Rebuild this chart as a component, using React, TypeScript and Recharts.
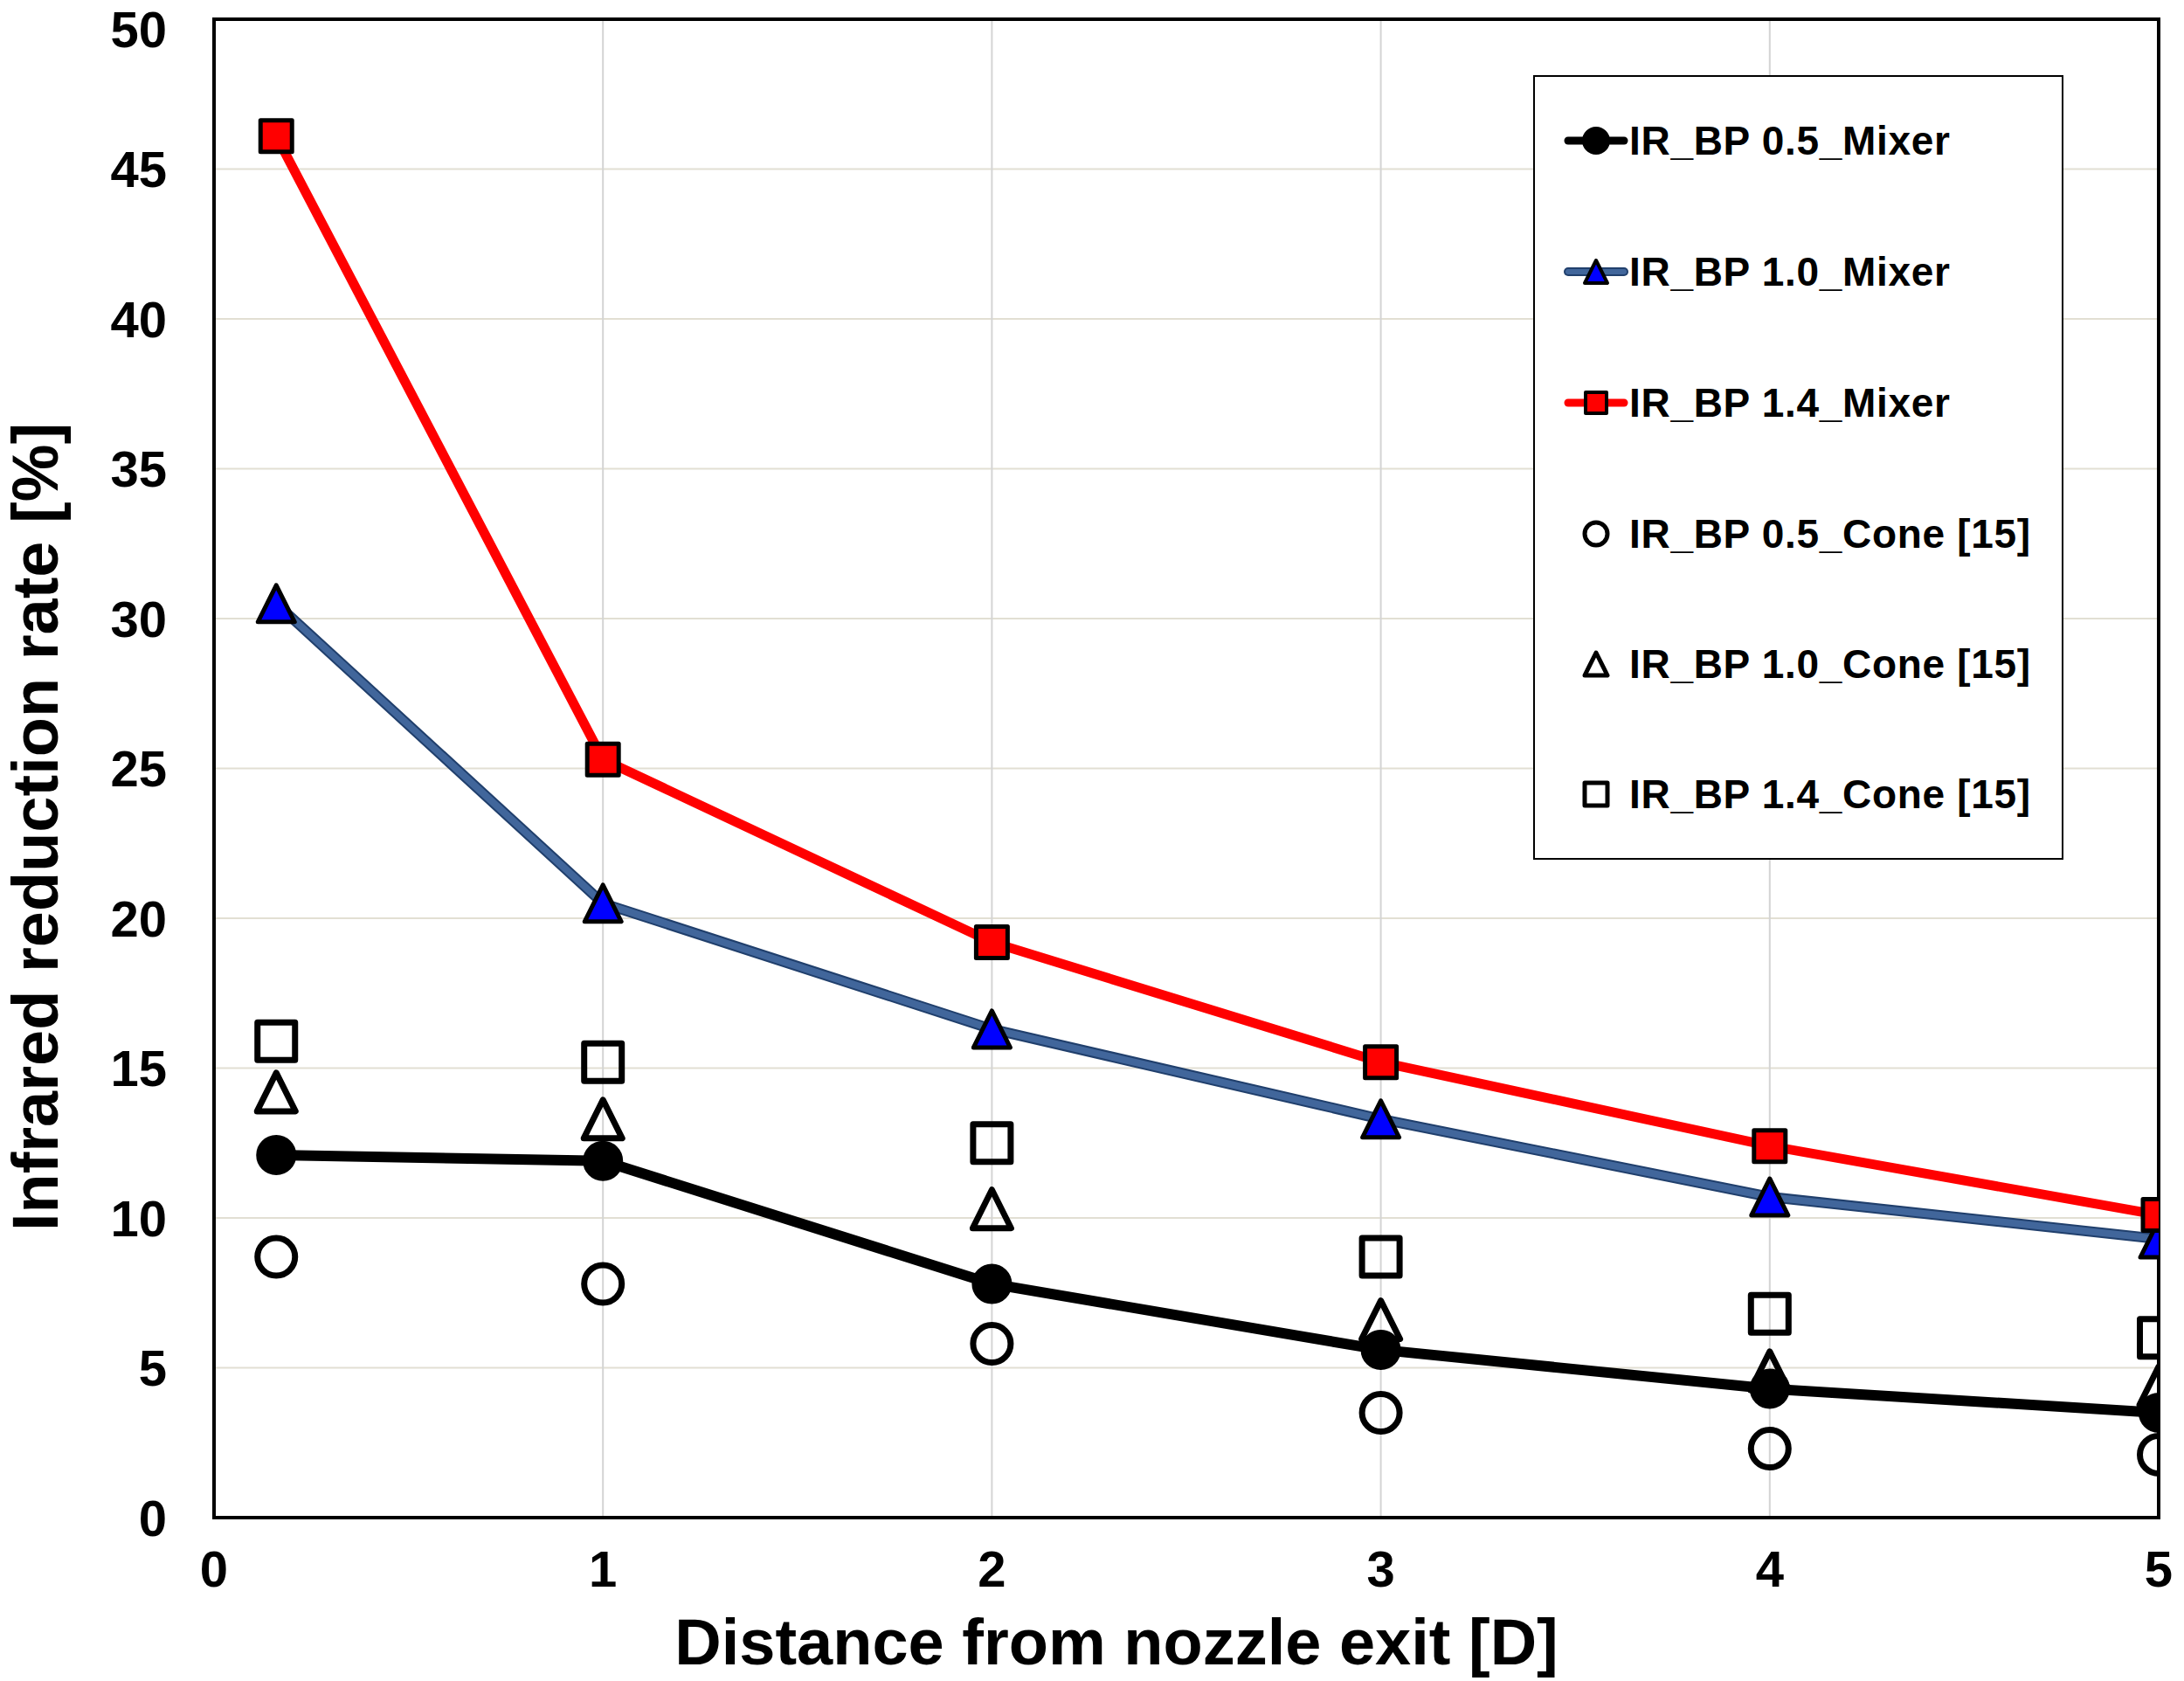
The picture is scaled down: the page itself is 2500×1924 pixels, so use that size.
import React from "react";
import {
  ComposedChart,
  Line,
  XAxis,
  YAxis,
  CartesianGrid,
  ReferenceArea,
  Legend,
} from "recharts";

// ---- data ----
const X_VALUES = [0.16, 1, 2, 3, 4, 5];
const MIXER_05 = [12.1, 11.9, 7.8, 5.6, 4.3, 3.5];
const MIXER_10 = [30.5, 20.5, 16.3, 13.3, 10.7, 9.3];
const MIXER_14 = [46.1, 25.3, 19.2, 15.2, 12.4, 10.1];
const CONE_05 = [8.7, 7.8, 5.8, 3.5, 2.3, 2.1];
const CONE_10 = [14.2, 13.3, 10.3, 6.6, 4.9, 4.4];
const CONE_14 = [15.9, 15.2, 12.5, 8.7, 6.8, 6.0];
const X_TICKS = [0, 1, 2, 3, 4, 5];
const Y_TICKS = [0, 5, 10, 15, 20, 25, 30, 35, 40, 45, 50];
const LEGEND_LABELS = [
  "IR_BP 0.5_Mixer",
  "IR_BP 1.0_Mixer",
  "IR_BP 1.4_Mixer",
  "IR_BP 0.5_Cone [15]",
  "IR_BP 1.0_Cone [15]",
  "IR_BP 1.4_Cone [15]",
];

const data = X_VALUES.map((x, i) => ({
  x,
  m05: MIXER_05[i],
  m10: MIXER_10[i],
  m14: MIXER_14[i],
  c05: CONE_05[i],
  c10: CONE_10[i],
  c14: CONE_14[i],
}));

const FONT = "'Liberation Sans', Arial, Helvetica, sans-serif";
const BLUE_EDGE = "#203f6c";
const BLUE_FILL = "#41669b";

type Shape = "circle" | "triangle" | "square";

function Marker({
  cx,
  cy,
  shape,
  size,
  fill,
  stroke,
  sw,
}: {
  cx: number;
  cy: number;
  shape: Shape;
  size: number;
  fill: string;
  stroke: string;
  sw: number;
}) {
  if (cx == null || cy == null || isNaN(cx) || isNaN(cy)) return null;
  if (shape === "circle") {
    return <circle cx={cx} cy={cy} r={size / 2} fill={fill} stroke={stroke} strokeWidth={sw} />;
  }
  if (shape === "square") {
    return (
      <rect
        x={cx - size / 2}
        y={cy - size / 2}
        width={size}
        height={size}
        fill={fill}
        stroke={stroke}
        strokeWidth={sw}
        strokeLinejoin="round"
      />
    );
  }
  const h = size;
  const w = size;
  return (
    <path
      d={`M${cx},${cy - h / 2} L${cx + w / 2},${cy + h / 2} L${cx - w / 2},${cy + h / 2} Z`}
      fill={fill}
      stroke={stroke}
      strokeWidth={sw}
      strokeLinejoin="round"
    />
  );
}

const makeDot =
  (name: string, shape: Shape, size: number, fill: string, stroke: string, sw: number) =>
  (p: any) =>
    (
      <Marker
        key={`${name}-${p.index}`}
        cx={p.cx}
        cy={p.cy}
        shape={shape}
        size={size}
        fill={fill}
        stroke={stroke}
        sw={sw}
      />
    );

function LegendBox() {
  const W = 607;
  const H = 898;
  const rowY = [75, 225, 375, 525, 674, 823];
  const sym = [
    { line: "#000", shape: "circle" as Shape, fill: "#000", stroke: "#000", size: 30, sw: 2 },
    { line: BLUE_FILL, shape: "triangle" as Shape, fill: "#0000ff", stroke: "#000", size: 26, sw: 4 },
    { line: "#ff0000", shape: "square" as Shape, fill: "#ff0000", stroke: "#000", size: 24, sw: 4 },
    { line: null, shape: "circle" as Shape, fill: "none", stroke: "#000", size: 26, sw: 5 },
    { line: null, shape: "triangle" as Shape, fill: "none", stroke: "#000", size: 26, sw: 5 },
    { line: null, shape: "square" as Shape, fill: "none", stroke: "#000", size: 26, sw: 5 },
  ];
  return (
    <svg width={W} height={H} style={{ display: "block" }}>
      <rect x={1} y={1} width={W - 2} height={H - 2} fill="#fff" stroke="#000" strokeWidth={2} />
      {LEGEND_LABELS.map((label, i) => {
        const s = sym[i];
        const y = rowY[i];
        return (
          <g key={label}>
            {s.line && i === 1 && (
              <line x1={40} x2={104} y1={y} y2={y} stroke={BLUE_EDGE} strokeWidth={10} strokeLinecap="round" />
            )}
            {s.line && (
              <line
                x1={40}
                x2={104}
                y1={y}
                y2={y}
                stroke={s.line}
                strokeWidth={i === 1 ? 6 : 9}
                strokeLinecap="round"
              />
            )}
            <Marker cx={72} cy={y} shape={s.shape} size={s.size} fill={s.fill} stroke={s.stroke} sw={s.sw} />
            <text
              x={110}
              y={y + 16}
              fontFamily={FONT}
              fontWeight="bold"
              fontSize={46}
              letterSpacing={0.7}
              fill="#000"
            >
              {label}
            </text>
          </g>
        );
      })}
    </svg>
  );
}

export default function App() {
  return (
    <div style={{ position: "absolute", left: 0, top: 0, width: 2500, height: 1924, background: "#fff" }}>
      <ComposedChart
        width={2500}
        height={1924}
        data={data}
        margin={{ top: 22, right: 29, bottom: 0, left: 0 }}
      >
        <CartesianGrid horizontal={true} vertical={false} stroke="#e2dfd3" strokeWidth={2} />
        <CartesianGrid horizontal={false} vertical={true} stroke="#d4d4d4" strokeWidth={2} />
        <XAxis
          dataKey="x"
          type="number"
          domain={[0, 5]}
          ticks={X_TICKS}
          allowDataOverflow
          axisLine={false}
          tickLine={false}
          tickSize={0}
          tickMargin={38}
          height={187}
          tick={{ fill: "#000", fontSize: 58, fontWeight: "bold", fontFamily: FONT }}
          label={{
            content: (props: any) => {
              const vb = props.viewBox || { x: 245, y: 1737, width: 2226, height: 187 };
              return (
                <text
                  x={vb.x + vb.width / 2 - 80}
                  y={vb.y + 168}
                  textAnchor="middle"
                  fontFamily={FONT}
                  fontWeight="bold"
                  fontSize={74}
                  fill="#000"
                >
                  Distance from nozzle exit [D]
                </text>
              );
            },
          }}
        />
        <YAxis
          type="number"
          domain={[0, 50]}
          ticks={Y_TICKS}
          allowDataOverflow
          axisLine={false}
          tickLine={false}
          tickSize={0}
          tickMargin={54}
          width={245}
          tick={{ fill: "#000", fontSize: 58, fontWeight: "bold", fontFamily: FONT }}
          label={{
            content: (props: any) => {
              const vb = props.viewBox || { x: 0, y: 22, width: 245, height: 1715 };
              const cx = vb.x + 66;
              const cy = vb.y + vb.height / 2 + 67;
              return (
                <text
                  transform={`translate(${cx},${cy}) rotate(-90)`}
                  x={0}
                  y={0}
                  textAnchor="middle"
                  fontFamily={FONT}
                  fontWeight="bold"
                  fontSize={74}
                  fill="#000"
                >
                  Infrared reduction rate [%]
                </text>
              );
            },
          }}
        />
        <ReferenceArea x1={0} x2={5} y1={0} y2={50} fill="none" fillOpacity={0} stroke="#000" strokeWidth={4} />
        <Line
          dataKey="m05"
          stroke="#000"
          strokeWidth={12}
          isAnimationActive={false}
          activeDot={false}
          legendType="none"
          dot={makeDot("m05", "circle", 44, "#000", "#000", 2)}
        />
        <Line
          dataKey="m10"
          stroke={BLUE_EDGE}
          strokeWidth={12}
          isAnimationActive={false}
          activeDot={false}
          legendType="none"
          dot={false}
        />
        <Line
          dataKey="m10"
          stroke={BLUE_FILL}
          strokeWidth={8}
          isAnimationActive={false}
          activeDot={false}
          legendType="none"
          dot={makeDot("m10", "triangle", 42, "#0000ff", "#000", 5)}
        />
        <Line
          dataKey="m14"
          stroke="#ff0000"
          strokeWidth={11}
          isAnimationActive={false}
          activeDot={false}
          legendType="none"
          dot={makeDot("m14", "square", 36, "#ff0000", "#000", 5)}
        />
        <Line
          dataKey="c05"
          stroke="none"
          strokeWidth={0}
          isAnimationActive={false}
          activeDot={false}
          legendType="none"
          dot={makeDot("c05", "circle", 43, "none", "#000", 7)}
        />
        <Line
          dataKey="c10"
          stroke="none"
          strokeWidth={0}
          isAnimationActive={false}
          activeDot={false}
          legendType="none"
          dot={makeDot("c10", "triangle", 44, "none", "#000", 7)}
        />
        <Line
          dataKey="c14"
          stroke="none"
          strokeWidth={0}
          isAnimationActive={false}
          activeDot={false}
          legendType="none"
          dot={makeDot("c14", "square", 43, "none", "#000", 7)}
        />
        <Legend
          layout="vertical"
          align="center"
          verticalAlign="middle"
          wrapperStyle={{ position: "absolute", left: 1755, top: 86, width: 607, height: 898 }}
          content={() => <LegendBox />}
        />
      </ComposedChart>
    </div>
  );
}
